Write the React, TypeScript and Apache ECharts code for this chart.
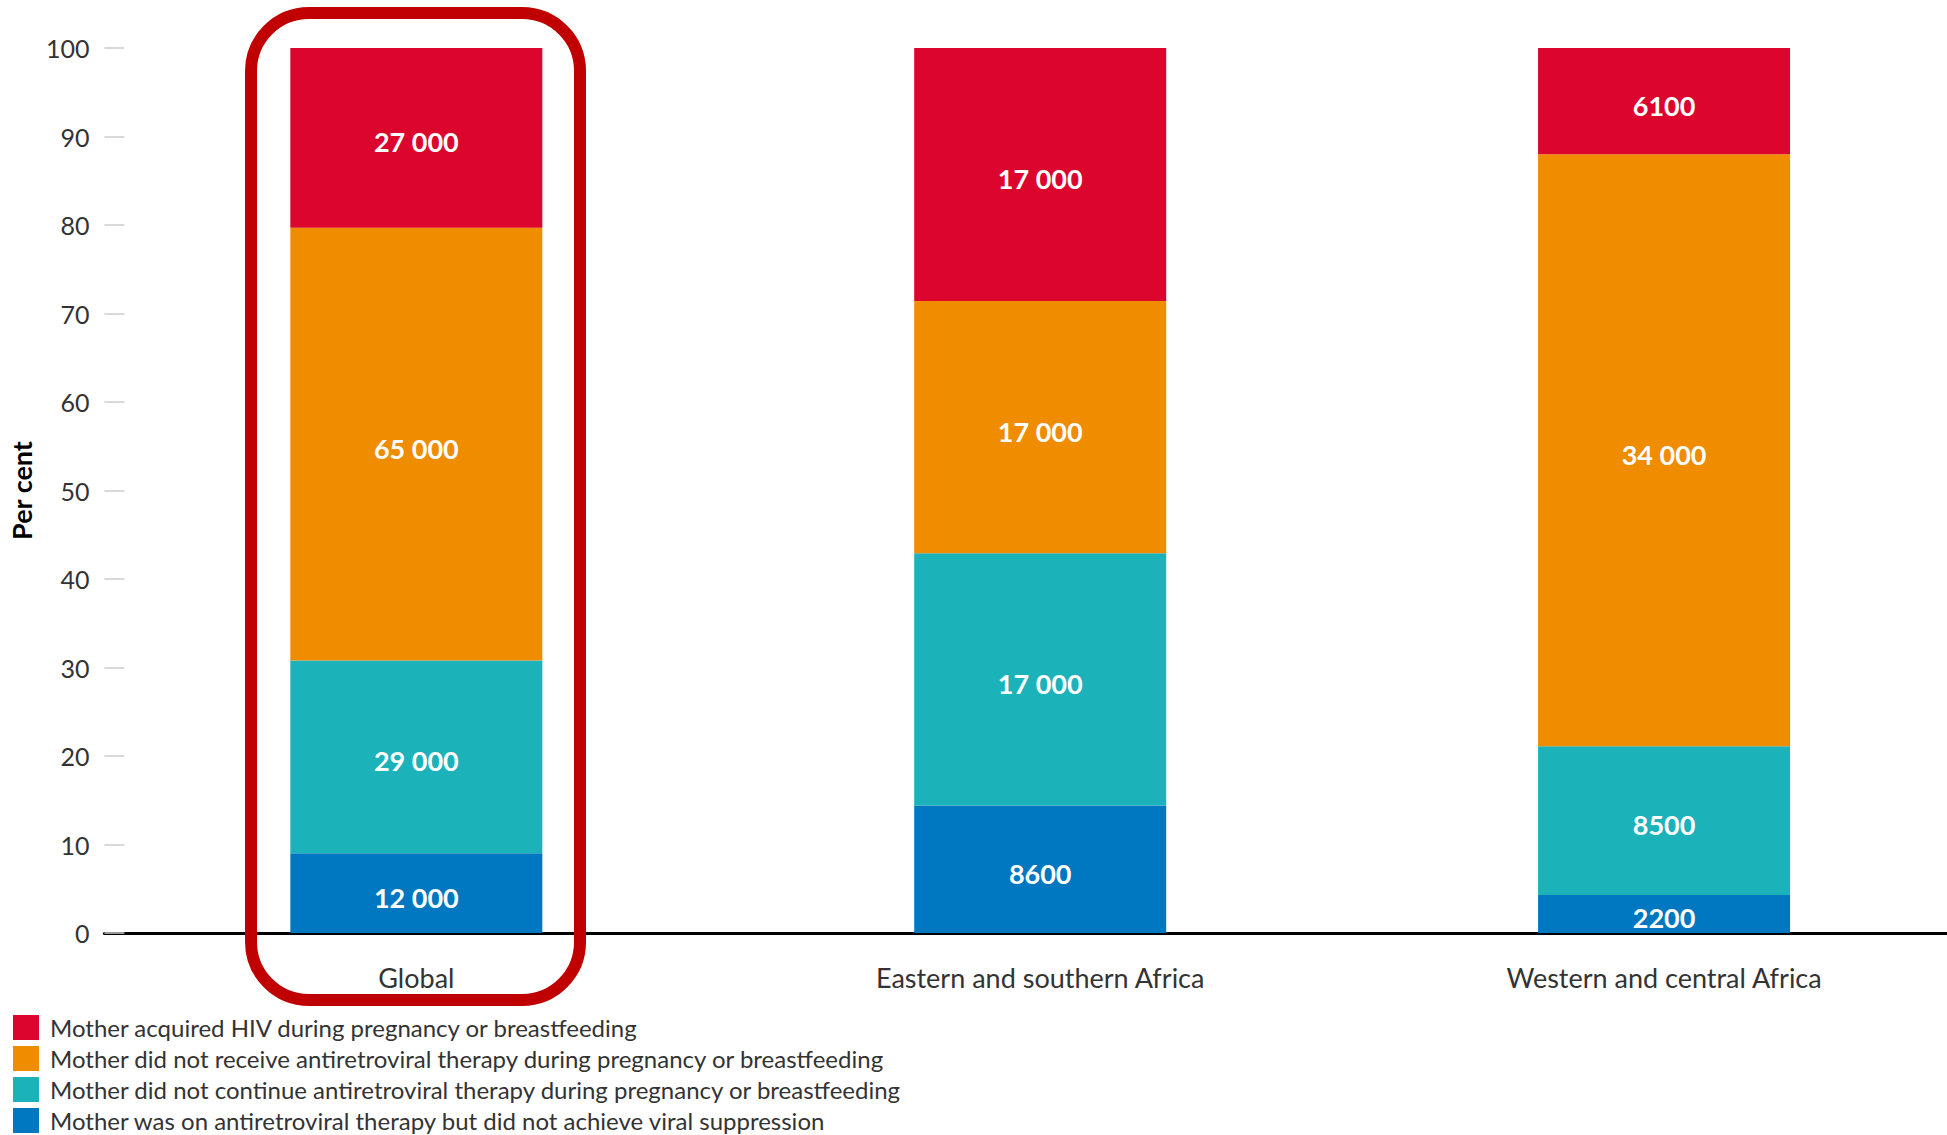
import React, { useEffect, useRef } from "react";
import * as echarts from "echarts";

const categories = ["Global", "Eastern and southern Africa", "Western and central Africa"];
const seriesNames = [
  "Mother was on antiretroviral therapy but did not achieve viral suppression",
  "Mother did not continue antiretroviral therapy during pregnancy or breastfeeding",
  "Mother did not receive antiretroviral therapy during pregnancy or breastfeeding",
  "Mother acquired HIV during pregnancy or breastfeeding",
];
const legendOrder = [3, 2, 1, 0];
const colors = ["#0078C1", "#1CB2BA", "#F08C00", "#DC052D"];

// percentages (per cent of bar) for each series, per category
const pctViralNotSuppressed = [9.0, 14.4, 4.3];
const pctNotContinued = [21.8, 28.5, 16.8];
const pctNotReceived = [48.9, 28.5, 66.9];
const pctAcquired = [20.3, 28.6, 12.0];

// labels (number of new infections)
const lblViralNotSuppressed = ["12 000", "8600", "2200"];
const lblNotContinued = ["29 000", "17 000", "8500"];
const lblNotReceived = ["65 000", "17 000", "34 000"];
const lblAcquired = ["27 000", "17 000", "6100"];

const yTicks = [0, 10, 20, 30, 40, 50, 60, 70, 80, 90, 100];

const FONT = "Lato, 'Noto Sans', sans-serif";

export default function App() {
  const ref = useRef<HTMLDivElement>(null);
  useEffect(() => {
    document.body.style.margin = "0";
    document.body.style.overflow = "hidden";
    if (!ref.current) return;
    const chart = echarts.init(ref.current, null, { renderer: "svg" });
    const pcts = [pctViralNotSuppressed, pctNotContinued, pctNotReceived, pctAcquired];
    const lbls = [lblViralNotSuppressed, lblNotContinued, lblNotReceived, lblAcquired];
    chart.setOption({
      animation: false,
      textStyle: { fontFamily: FONT },
      grid: { left: 104, right: 0, top: 48, bottom: 202, containLabel: false },
      legend: {
        orient: "vertical",
        left: 13,
        top: 1015,
        height: 200,
        padding: 0,
        icon: "rect",
        itemWidth: 26,
        itemHeight: 25,
        itemGap: 6,
        selectedMode: false,
        textStyle: { fontSize: 24, color: "#333", fontFamily: FONT, padding: [0, 0, 0, 6] },
        data: legendOrder.map((i) => seriesNames[i]),
      },
      xAxis: {
        type: "category",
        data: categories,
        axisLine: { lineStyle: { color: "#000", width: 3 } },
        axisTick: { show: false },
        axisLabel: { fontSize: 27, color: "#333", margin: 31, fontFamily: FONT },
      },
      yAxis: {
        type: "value",
        min: yTicks[0],
        max: yTicks[yTicks.length - 1],
        interval: 10,
        name: "Per cent",
        nameLocation: "middle",
        nameRotate: 90,
        nameGap: 59,
        nameTextStyle: { fontSize: 27, fontWeight: "bold", color: "#000", fontFamily: FONT },
        axisLine: { show: false },
        axisTick: { show: true, inside: true, length: 20, lineStyle: { color: "#ccc", width: 1.5 } },
        splitLine: { show: false },
        axisLabel: { fontSize: 25, color: "#333", margin: 15, fontFamily: FONT },
      },
      series: seriesNames.map((name, si) => ({
        name,
        type: "bar",
        stack: "total",
        barWidth: 252,
        itemStyle: { color: colors[si] },
        label: {
          show: true,
          position: "inside",
          offset: [0, 4],
          color: "#fff",
          fontWeight: "bold",
          fontSize: 27,
          fontFamily: FONT,
          formatter: (p: any) => lbls[si][p.dataIndex],
        },
        data: pcts[si],
      })),
      graphic: [
        {
          type: "rect",
          shape: { x: 251, y: 13, width: 329, height: 987, r: 58 },
          style: { fill: "none", stroke: "#C00000", lineWidth: 12 },
          z: 100,
        },
      ],
    });
    return () => chart.dispose();
  }, []);
  return (
    <div style={{ width: 1947, height: 1135, overflow: "hidden", position: "relative" }}>
      <div ref={ref} style={{ width: 1976, height: 1135 }} />
    </div>
  );
}
